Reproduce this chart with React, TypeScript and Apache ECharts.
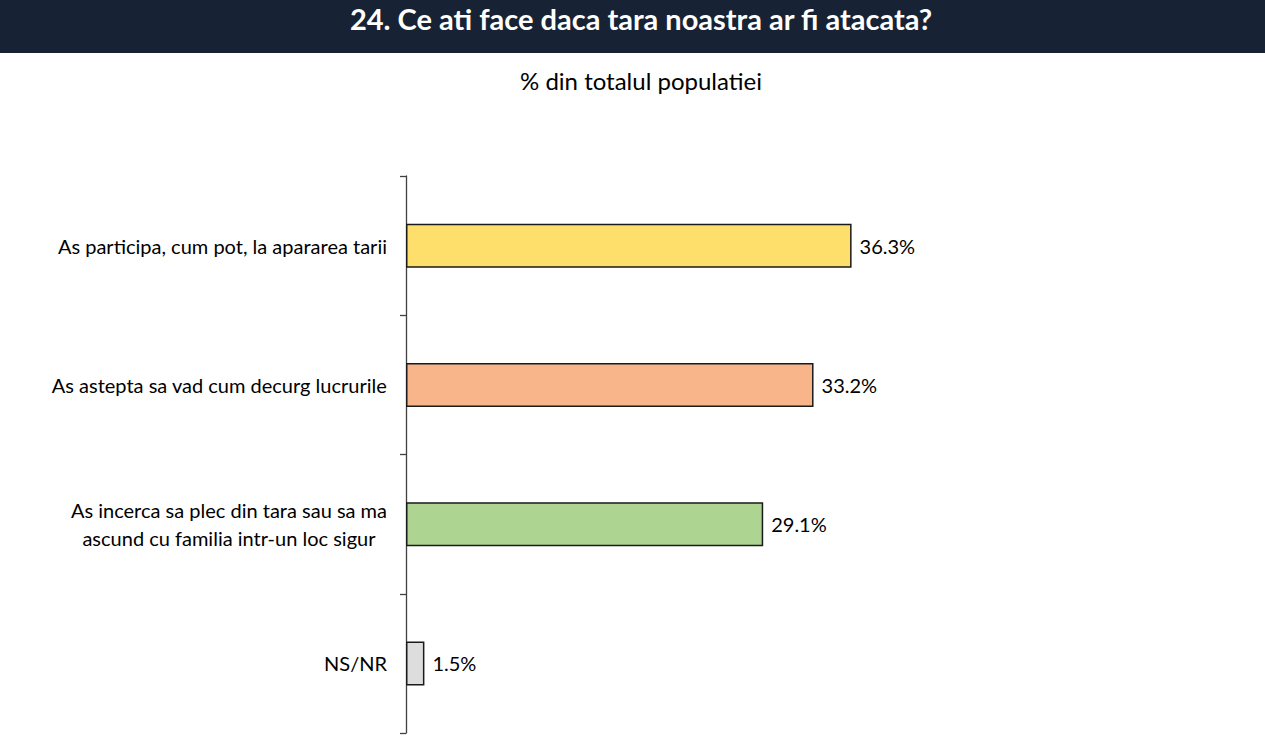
import { useEffect, useRef } from 'react';
import * as echarts from 'echarts';

const categories = [
    'As participa, cum pot, la apararea tarii',
    'As astepta sa vad cum decurg lucrurile',
    'As incerca sa plec din tara sau sa ma\nascund cu familia intr-un loc sigur',
    'NS/NR'
];
const values = [36.3, 33.2, 29.1, 1.5];
const barColors = ['#FFDF6B', '#F8B58A', '#ADD591', '#DDDDDD'];

const titleText = '24. Ce ati face daca tara noastra ar fi atacata?';
const subtitleText = '% din totalul populatiei';

const FONT = 'Lato, "Open Sans", sans-serif';

const App = () => {
    const chartRef = useRef<HTMLDivElement>(null);

    useEffect(() => {
        if (!chartRef.current) return;
        const chart = echarts.init(chartRef.current, undefined, { renderer: 'svg' });

        chart.setOption({
            animation: false,
            backgroundColor: '#ffffff',
            graphic: [
                {
                    type: 'rect',
                    left: 0,
                    top: 0,
                    shape: { width: 1265, height: 53 },
                    style: { fill: '#172335' }
                },
                {
                    type: 'text',
                    x: 641,
                    y: 18,
                    style: {
                        text: titleText,
                        fill: '#ffffff',
                        font: `bold 29px ${FONT}`,
                        align: 'center',
                        verticalAlign: 'middle'
                    }
                },
                {
                    type: 'text',
                    x: 641,
                    y: 80,
                    style: {
                        text: subtitleText,
                        fill: '#000000',
                        font: `24px ${FONT}`,
                        align: 'center',
                        verticalAlign: 'middle'
                    }
                }
            ],
            grid: {
                left: 406,
                top: 176,
                width: 491,
                height: 557,
                containLabel: false
            },
            xAxis: {
                type: 'value',
                min: 0,
                max: 40,
                show: false
            },
            yAxis: {
                type: 'category',
                data: categories,
                inverse: true,
                axisLine: { show: true, lineStyle: { color: '#404040', width: 1.3 } },
                axisTick: { show: true, length: 6, lineStyle: { color: '#404040', width: 1.3 } },
                axisLabel: {
                    margin: 19,
                    color: '#000000',
                    fontFamily: FONT,
                    fontSize: 20,
                    lineHeight: 28,
                    formatter: (v: string) =>
                        v.split('\n').map((line) => `{c|${line}}`).join('\n'),
                    rich: {
                        c: { align: 'center', fontFamily: FONT, fontSize: 20, lineHeight: 28, color: '#000000' }
                    }
                }
            },
            series: [
                {
                    type: 'bar',
                    data: values.map((v, i) => ({
                        value: v,
                        itemStyle: { color: barColors[i] }
                    })),
                    barWidth: 44,
                    itemStyle: { borderColor: '#1a1a1a', borderWidth: 1.5 },
                    label: {
                        show: true,
                        position: 'right',
                        distance: 8,
                        color: '#000000',
                        fontFamily: FONT,
                        fontSize: 20,
                        formatter: (p: any) => `${p.value.toFixed(1)}%`
                    }
                }
            ]
        });

        return () => {
            chart.dispose();
        };
    }, []);

    return (
        <div
            ref={chartRef}
            style={{ position: 'fixed', left: 0, top: 0, width: '1265px', height: '750px' }}
        />
    );
};

export default App;
